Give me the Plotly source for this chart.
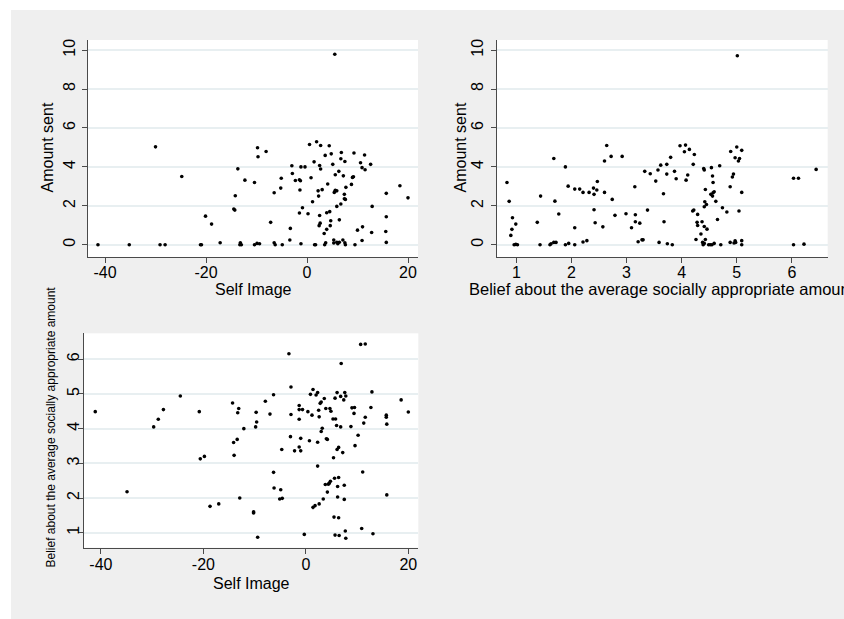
import plotly.graph_objects as go

# ---------------- data ----------------
# Panel 1: Self Image (x) vs Amount sent (y)
p1_self_image = [-41.4, -35.2, -29.1, -28.1, -30.0, -24.8, -21.1, -20.9, -20.1, -18.9,
                 -17.2, -13.7, -14.2, -14.5, -14.3, -13.2, -13.3, -13.0, -12.3, -10.4,
                 -10.4, -9.8, -9.7, -9.9, -9.4, -8.1, -7.2, -6.5, -6.5, -6.3,
                 -5.1, -5.2, -4.9, -3.3, -3.4, -3.0, -2.9, -2.3, -1.5, -1.3,
                 -1.4, -1.2, -0.4, -1.5, -0.9, -1.2, 0.2, 0.5, 0.8, 1.1,
                 1.4, 1.9, 1.5, 1.7, 2.2, 2.3, 2.5, 2.7, 2.7, 3.0,
                 2.5, 2.6, 2.4, 3.6, 3.4, 3.7, 3.5, 3.9, 3.9, 4.1,
                 4.4, 4.5, 4.7, 4.6, 4.8, 5.1, 5.3, 5.3, 5.5, 5.6,
                 5.6, 5.4, 5.9, 5.9, 5.9, 6.1, 6.4, 6.3, 6.4, 6.7,
                 6.7, 6.8, 7.1, 7.2, 7.5, 7.6, 7.5, 7.4, 7.4, 7.6,
                 7.7, 8.8, 9.0, 9.2, 9.3, 9.5, 10.0, 10.6, 10.9, 11.0,
                 10.9, 11.4, 11.5, 12.6, 12.9, 12.8, 15.7, 15.7, 15.6, 15.7,
                 18.4, 20.0]
p1_amount = [0, 0, 0, 0, 5.03, 3.51, 0, 0, 1.47, 1.06,
             0.1, 3.9, 2.52, 1.83, 1.78, 0.1, 0, 0, 3.32, 3.2,
             0, 4.98, 4.52, 0.07, 0.05, 4.79, 1.15, 2.67, 0.1, 0,
             3.42, 2.91, 0, 0.84, 0.24, 4.06, 3.66, 3.3, 3.34, 3.29,
             2.81, 4.0, 4.0, 1.63, 1.9, 0.05, 1.59, 5.15, 3.44, 2.21,
             4.26, 5.29, 0, 0, 2.77, 2.5, 4.07, 5.1, 3.89, 2.83,
             1.5, 1.11, 0.98, 4.59, 0.58, 0.1, 0, 1.64, 0.79, 3.12,
             5.09, 1.7, 1.23, 0.98, 4.67, 4.13, 0.24, 0.09, 9.79, 3.6,
             2.8, 2.69, 2.77, 1.97, 0.13, 0.05, 0.13, 3.77, 1.28, 2.09,
             4.42, 4.74, 0.24, 3.54, 0.1, 0, 4.28, 2.59, 2.36, 2.33,
             2.95, 3.1, 3.46, 3.49, 4.71, 0, 0.75, 4.21, 3.96, 0.92,
             0.22, 4.61, 3.85, 4.13, 1.97, 0.63, 2.64, 1.44, 0.68, 0.12,
             3.03, 2.41]

# Panel 2: Belief about the average socially appropriate amount (x) vs Amount sent (y)
p2_belief = [0.83, 0.87, 0.90, 0.92, 0.93, 0.99, 0.96, 0.99, 1.02, 1.38,
             1.44, 1.43, 1.68, 1.70, 1.61, 1.63, 1.68, 1.72, 1.77, 1.89,
             1.94, 1.89, 1.95, 2.06, 2.06, 2.06, 2.15, 2.21, 2.21, 2.28,
             2.32, 2.40, 2.41, 2.41, 2.43, 2.46, 2.47, 2.57, 2.60, 2.60,
             2.64, 2.72, 2.74, 2.79, 2.92, 2.99, 3.09, 3.15, 3.16, 3.16,
             3.21, 3.24, 3.28, 3.30, 3.33, 3.38, 3.43, 3.53, 3.57, 3.59,
             3.62, 3.67, 3.68, 3.73, 3.73, 3.74, 3.80, 3.83, 3.87, 3.90,
             3.97, 4.05, 4.07, 4.08, 4.11, 4.14, 4.21, 4.23, 4.20, 4.22,
             4.26, 4.28, 4.29, 4.29, 4.35, 4.37, 4.38, 4.39, 4.41, 4.40,
             4.41, 4.41, 4.41, 4.42, 4.43, 4.43, 4.45, 4.46, 4.49, 4.52,
             4.55, 4.53, 4.54, 4.56, 4.56, 4.57, 4.57, 4.59, 4.59, 4.62,
             4.65, 4.69, 4.71, 4.74, 4.82, 4.88, 4.89, 4.88, 4.92, 4.94,
             4.95, 4.97, 4.98, 4.97, 5.00, 5.01, 5.03, 5.05, 5.04, 5.09,
             5.09, 5.09, 5.09, 6.03, 6.03, 6.12, 6.22, 6.44]
p2_amount = [3.2, 2.23, 0.48, 0.79, 1.39, 1.06, 0, 0.02, 0, 1.15,
             2.5, 0, 4.43, 2.24, 0, 0.05, 0.12, 0.12, 1.58, 4.0,
             3.01, 0, 0.07, 0.87, 2.86, 0, 2.86, 2.69, 0.14, 0.21,
             2.69, 2.91, 2.59, 1.8, 1.13, 2.81, 3.25, 0.92, 2.69, 4.30,
             5.10, 4.54, 2.33, 1.51, 4.54, 1.59, 0.87, 2.98, 1.54, 1.18,
             0.15, 1.11, 0.25, 0.25, 3.77, 1.78, 3.65, 3.27, 3.84, 0.12,
             4.09, 2.62, 1.18, 4.13, 3.63, 0.05, 4.49, 0, 3.77, 3.39,
             5.09, 4.78, 5.12, 3.32, 3.58, 4.9, 4.13, 4.64, 1.73, 1.78,
             0.27, 1.15, 1.56, 0.99, 0.55, 1.18, 0.12, 0, 0.07, 3.92,
             3.84, 1.95, 0.94, 2.21, 2.84, 0.27, 2.07, 0.8, 0, 0,
             0, 2.59, 3.96, 2.5, 3.53, 3.2, 2.67, 2.72, 0.07, 2.23,
             1.3, 4.06, 0, 1.9, 1.68, 2.98, 4.79, 0.12, 3.48, 3.63,
             0.09, 0.2, 0.12, 4.47, 5.02, 9.71, 4.3, 4.43, 1.73, 4.85,
             2.69, 0.21, 0, 3.42, 0, 3.42, 0.03, 3.87]

# Panel 3: Self Image (x) vs Belief about the average socially appropriate amount (y)
p3_self_image = [-41.1, -34.9, -29.7, -28.8, -27.8, -24.5, -20.8, -20.6, -19.8, -18.7,
                 -17.0, -14.3, -14.1, -14.0, -13.4, -13.3, -13.1, -12.9, -12.1, -10.2,
                 -10.2, -9.8, -9.7, -9.6, -9.4, -7.9, -7.0, -6.3, -6.2, -6.3,
                 -4.9, -5.1, -4.6, -4.7, -3.3, -2.9, -3.0, -2.9, -2.2, -1.3,
                 -1.3, -0.65, -1.3, -1.3, -1.0, -1.0, -0.3, 0.4, 0.7, 0.9,
                 1.2, 1.4, 1.4, 1.8, 2.0, 2.3, 2.3, 2.3, 2.5, 2.6,
                 2.6, 2.8, 3.0, 3.0, 3.2, 3.4, 3.6, 3.8, 3.9, 4.0,
                 4.2, 4.2, 4.4, 4.6, 4.7, 4.8, 4.9, 5.3, 5.4, 5.5,
                 5.6, 5.7, 5.8, 5.7, 6.0, 6.1, 6.1, 6.2, 6.2, 6.4,
                 6.4, 6.4, 6.5, 6.8, 6.9, 6.8, 7.2, 7.4, 7.6, 7.8,
                 7.5, 7.5, 7.7, 7.8, 8.8, 9.0, 9.5, 9.4, 9.6, 10.2,
                 10.7, 11.6, 10.9, 11.1, 11.3, 11.6, 12.7, 12.9, 13.1, 15.7,
                 15.7, 15.8, 15.8, 18.6, 20.0]
p3_belief = [4.49, 2.18, 4.05, 4.27, 4.55, 4.94, 4.49, 3.13, 3.2, 1.76,
             1.83, 4.74, 3.6, 3.23, 3.69, 4.46, 4.58, 2.0, 4.0, 1.6,
             1.57, 4.05, 4.47, 4.19, 0.87, 4.79, 4.42, 2.74, 2.29, 4.98,
             2.24, 1.97, 1.99, 3.4, 6.16, 5.2, 3.77, 4.41, 3.36, 4.67,
             4.55, 4.55, 4.27, 3.47, 3.72, 3.36, 0.95, 4.49, 3.65, 4.99,
             4.39, 5.13, 1.73, 1.78, 4.97, 5.04, 3.61, 2.92, 4.53, 4.34,
             1.83, 4.73, 4.77, 3.92, 4.01, 1.97, 4.87, 2.39, 4.58, 3.71,
             3.69, 2.17, 2.4, 2.43, 4.58, 2.48, 4.5, 4.28, 3.16, 1.45,
             2.57, 4.88, 4.28, 0.93, 4.09, 5.04, 3.4, 2.03, 2.33, 3.46,
             2.59, 1.43, 0.92, 4.93, 5.88, 4.05, 3.31, 4.83, 5.04, 4.94,
             2.37, 1.96, 1.05, 0.84, 4.06, 4.6, 4.61, 4.44, 3.51, 3.81,
             6.43, 6.44, 1.12, 2.75, 4.16, 4.33, 4.61, 5.06, 0.97, 4.39,
             4.33, 4.13, 2.09, 4.83, 4.48]

x_ticks_self = [-40, -20, 0, 20]
x_ticktext_self = ["-40", "-20", "0", "20"]
y_ticks_amount = [0, 2, 4, 6, 8, 10]
x_ticks_belief = [1, 2, 3, 4, 5, 6]
y_ticks_belief = [1, 2, 3, 4, 5, 6]

title_self = "Self Image"
title_amount = "Amount sent"
title_belief = "Belief about the average socially appropriate amount"

# ---------------- figure ----------------
W, H = 844, 619
FONT = "Liberation Sans, Arial, Helvetica, sans-serif"
GRID = "#e8eff1"
AXC = "#4a4a4a"
BG = "#efefef"

def px(x):
    """window pixel x -> paper fraction"""
    return x / W

def py(y):
    """window pixel y -> paper fraction"""
    return 1 - y / H

fig = go.Figure()
mk = dict(color="black", size=3.6, line=dict(width=0))
fig.add_trace(go.Scatter(x=p1_self_image, y=p1_amount, mode="markers", marker=mk,
                         xaxis="x", yaxis="y", showlegend=False, hoverinfo="x+y"))
fig.add_trace(go.Scatter(x=p2_belief, y=p2_amount, mode="markers", marker=mk,
                         xaxis="x2", yaxis="y2", showlegend=False, hoverinfo="x+y"))
fig.add_trace(go.Scatter(x=p3_self_image, y=p3_belief, mode="markers", marker=mk,
                         xaxis="x3", yaxis="y3", showlegend=False, hoverinfo="x+y"))

def xax(domain, rng, ticks, anchor, standoff, ticktext=None):
    d = dict(domain=domain, range=rng, tickvals=ticks, anchor=anchor,
             showgrid=False, zeroline=False, showline=True, linecolor=AXC, linewidth=1,
             ticks="outside", ticklen=5, tickcolor=AXC, tickwidth=1,
             tickfont=dict(family=FONT, size=16, color="black"),
             ticklabelstandoff=standoff)
    if ticktext is not None:
        d["ticktext"] = ticktext
    return d

def yax(domain, rng, ticks, anchor, standoff):
    return dict(domain=domain, range=rng, tickvals=ticks, anchor=anchor,
                showgrid=True, gridcolor=GRID, gridwidth=1.5, zeroline=False,
                showline=True, linecolor=AXC, linewidth=1,
                ticks="outside", ticklen=5, tickcolor=AXC, tickwidth=1, tickangle=-90,
                tickfont=dict(family=FONT, size=16, color="black"),
                ticklabelstandoff=standoff)

p1_x = [px(88), px(418)]
p1_y = [py(257), py(40)]
p2_x = [px(496.5), px(827.7)]
p3_x = [px(84), px(418.3)]
p3_y = [py(547.7), py(333.3)]

def ann(text, x, y, size=16, angle=0):
    return dict(text=text, x=px(x), y=py(y), xref="paper", yref="paper",
                showarrow=False, xanchor="center", yanchor="middle", textangle=angle,
                font=dict(family=FONT, size=size, color="black"))

fig.update_layout(
    width=W, height=H,
    margin=dict(l=0, r=0, t=0, b=0),
    paper_bgcolor=BG, plot_bgcolor="white",
    font=dict(family=FONT, color="black"),
    xaxis=xax(p1_x, [-43.37, 21.98], x_ticks_self, "y", -4, x_ticktext_self),
    yaxis=yax(p1_y, [-0.63, 10.52], y_ticks_amount, "x", 1),
    xaxis2=xax(p2_x, [0.64, 6.65], x_ticks_belief, "y2", -4),
    yaxis2=yax(p1_y, [-0.63, 10.52], y_ticks_amount, "x2", 1),
    xaxis3=xax(p3_x, [-43.3, 21.95], x_ticks_self, "y3", -3, x_ticktext_self),
    yaxis3=yax(p3_y, [0.567, 6.75], y_ticks_belief, "x3", -7),
    shapes=[
        dict(type="rect", xref="paper", yref="paper", x0=0, x1=px(11), y0=0, y1=1,
             fillcolor="white", line=dict(width=0), layer="above"),
        dict(type="rect", xref="paper", yref="paper", x0=0, x1=1, y0=py(10), y1=1,
             fillcolor="white", line=dict(width=0), layer="above"),
    ],
    annotations=[
        ann(title_self, 253, 289),
        ann(title_amount, 47, 147.5, angle=-90),
        ann(title_belief, 662, 289, size=16.5),
        ann(title_amount, 460, 147.5, angle=-90),
        ann(title_self, 251, 583),
        ann(title_belief, 50, 427.5, size=12, angle=-90),
    ],
)

# place the figure at the window's top-left corner (no default body margin)
fig.write_html(
    "out.html",
    config={"displayModeBar": False},
    post_script=(
        "document.body.style.margin='0';"
        "document.body.style.overflow='hidden';"
        "document.body.style.background='" + BG + "';"
        "document.documentElement.style.background='" + BG + "';"
    ),
)
